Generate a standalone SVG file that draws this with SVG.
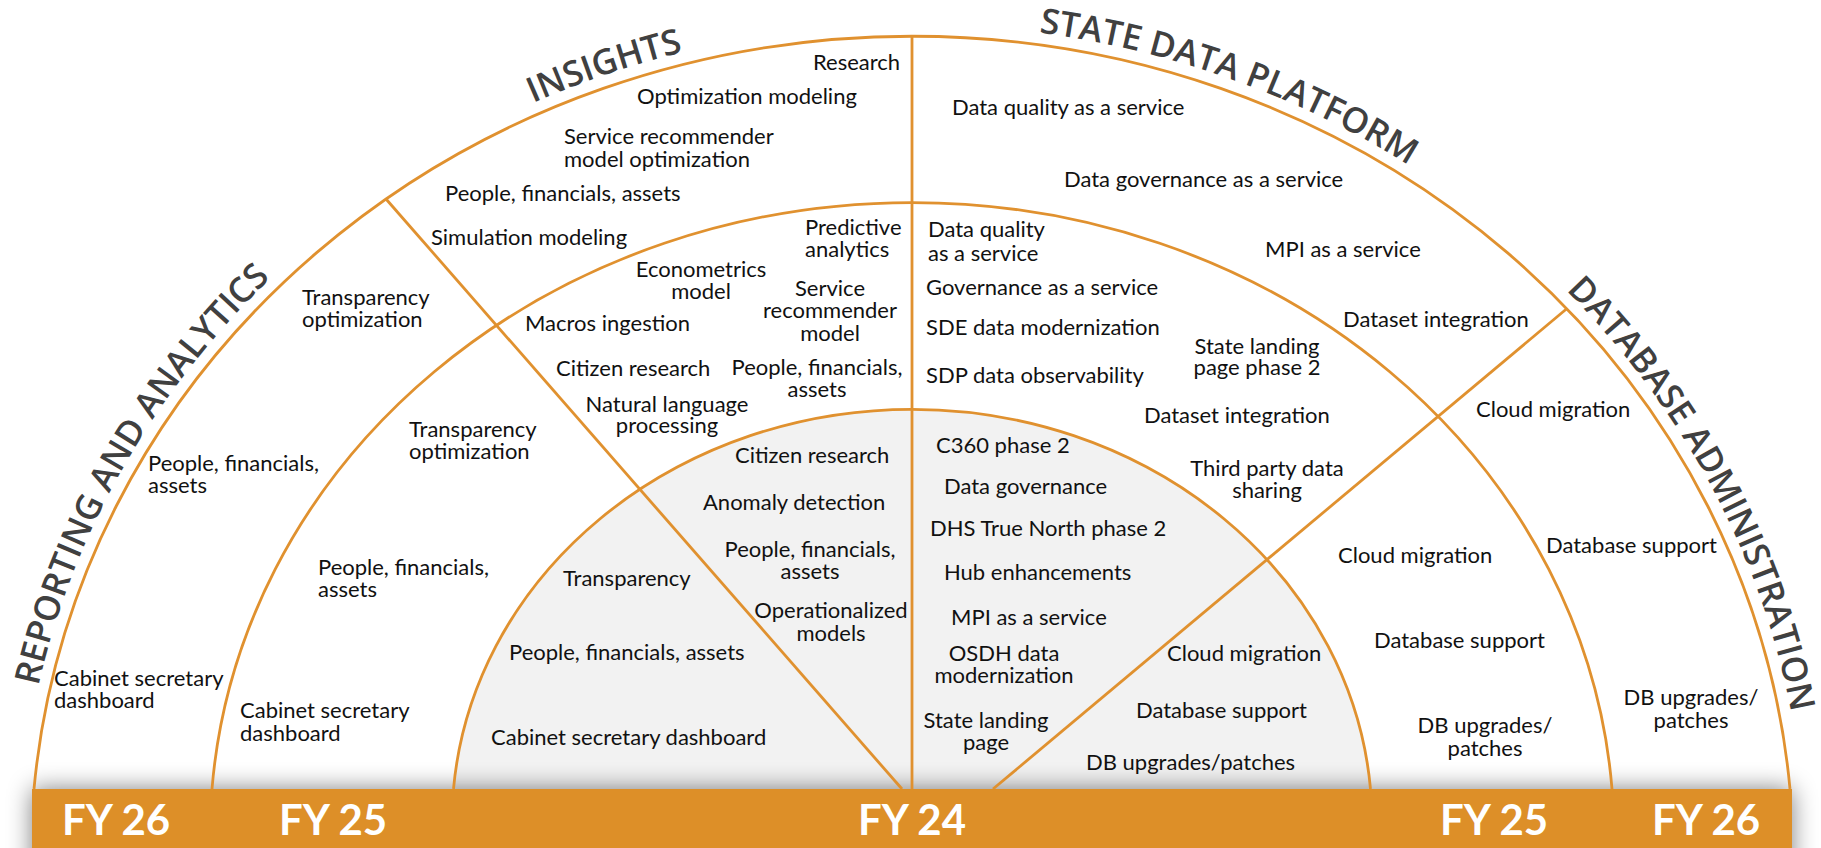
<svg xmlns="http://www.w3.org/2000/svg" width="1821" height="848" viewBox="0 0 1821 848">
<defs>
<style>
.t{font-family:Lato,"Liberation Sans",sans-serif;font-size:22px;fill:#111}
.m{text-anchor:middle}
.ln{fill:none;stroke:#E0912F;stroke-width:2.8}
.ttl{font-family:"Open Sans","DejaVu Sans",sans-serif;font-size:35px;font-weight:600;fill:#404040;text-anchor:middle}
.fy{font-family:Lato,"Liberation Sans",sans-serif;font-size:42px;font-weight:700;fill:#fff}
</style>
<filter id="sh" x="-10%" y="-100%" width="120%" height="300%">
<feGaussianBlur stdDeviation="12"/>
</filter>
<path id="pRep" d="M 27.4 743.6 A 893.3 836 0 0 1 314.3 238.8"/>
<path id="pIns" d="M 465.35 136 A 893.3 836 0 0 1 756.88 36.7"/>
<path id="pSdp" d="M 1005.4 28.6 A 893.3 836 0 0 1 1437.1 183.7"/>
<path id="pDba" d="M 1526.9 253.6 A 893.3 836 0 0 1 1799.6 765.4"/>
</defs>
<rect width="1821" height="848" fill="#fff"/>
<path id="fy24fill" d="M 453.5 789 A 460 413 0 0 1 1370.5 789 Z" fill="#F2F2F2"/>
<rect x="32" y="789" width="1760" height="90" fill="#000" opacity="0.5" filter="url(#sh)"/>
<g id="connectors">
<path class="ln" d="M 34 789 A 881.3 824 0 0 1 1790 789"/>
<path class="ln" d="M 212 789 A 701.9 633 0 0 1 1612 789"/>
<path class="ln" d="M 453.5 789 A 460 413 0 0 1 1370.5 789"/>
<path class="ln" d="M 912 36 L 912 789"/>
<path class="ln" d="M 386 199 L 902 789"/>
<path class="ln" d="M 1567 308.5 L 993 789"/>
</g>
<g id="titles">
<text class="ttl"><textPath href="#pRep" startOffset="50%">REPORTING AND ANALYTICS</textPath></text>
<text class="ttl"><textPath href="#pIns" startOffset="50%">INSIGHTS</textPath></text>
<text class="ttl"><textPath href="#pSdp" startOffset="50%">STATE DATA PLATFORM</textPath></text>
<text class="ttl"><textPath href="#pDba" startOffset="50%">DATABASE ADMINISTRATION</textPath></text>
</g>
<g id="insights-fy26">
<text class="t" x="813" y="70">Research</text>
<text class="t" x="637" y="104">Optimization modeling</text>
<text class="t" x="564" y="144">Service recommender<tspan x="564" y="167">model optimization</tspan></text>
<text class="t" x="445" y="201">People, financials, assets</text>
<text class="t" x="431" y="245">Simulation modeling</text>
</g>
<g id="reporting-fy26">
<text class="t" x="302" y="305">Transparency<tspan x="302" y="327">optimization</tspan></text>
<text class="t" x="148" y="471">People, financials,<tspan x="148" y="493">assets</tspan></text>
<text class="t" x="54" y="686">Cabinet secretary<tspan x="54" y="708">dashboard</tspan></text>
</g>
<g id="reporting-fy25">
<text class="t" x="409" y="437">Transparency<tspan x="409" y="459">optimization</tspan></text>
<text class="t" x="318" y="575">People, financials,<tspan x="318" y="597">assets</tspan></text>
<text class="t" x="240" y="718">Cabinet secretary<tspan x="240" y="741">dashboard</tspan></text>
</g>
<g id="insights-fy25">
<text class="t" x="805" y="235">Predictive<tspan x="805" y="257">analytics</tspan></text>
<text class="t m" x="701" y="277">Econometrics<tspan x="701" y="299">model</tspan></text>
<text class="t m" x="830" y="296">Service<tspan x="830" y="318">recommender</tspan><tspan x="830" y="341">model</tspan></text>
<text class="t" x="525" y="331">Macros ingestion</text>
<text class="t" x="556" y="376">Citizen research</text>
<text class="t m" x="817" y="375">People, financials,<tspan x="817" y="397">assets</tspan></text>
<text class="t m" x="667" y="412">Natural language<tspan x="667" y="433">processing</tspan></text>
</g>
<g id="insights-fy24">
<text class="t" x="735" y="463">Citizen research</text>
<text class="t" x="703" y="510">Anomaly detection</text>
<text class="t m" x="810" y="557">People, financials,<tspan x="810" y="579">assets</tspan></text>
<text class="t m" x="831" y="618">Operationalized<tspan x="831" y="641">models</tspan></text>
</g>
<g id="reporting-fy24">
<text class="t" x="563" y="586">Transparency</text>
<text class="t" x="509" y="660">People, financials, assets</text>
<text class="t" x="491" y="745">Cabinet secretary dashboard</text>
</g>
<g id="sdp-fy26">
<text class="t" x="952" y="115">Data quality as a service</text>
<text class="t" x="1064" y="187">Data governance as a service</text>
<text class="t" x="1265" y="257">MPI as a service</text>
<text class="t" x="1343" y="327">Dataset integration</text>
</g>
<g id="sdp-fy25">
<text class="t" x="928" y="237">Data quality<tspan x="928" y="261">as a service</tspan></text>
<text class="t" x="926" y="295">Governance as a service</text>
<text class="t" x="926" y="335">SDE data modernization</text>
<text class="t" x="926" y="383">SDP data observability</text>
<text class="t m" x="1257" y="354">State landing<tspan x="1257" y="375">page phase 2</tspan></text>
<text class="t" x="1144" y="423">Dataset integration</text>
<text class="t m" x="1267" y="476">Third party data<tspan x="1267" y="498">sharing</tspan></text>
</g>
<g id="sdp-fy24">
<text class="t" x="936" y="453">C360 phase 2</text>
<text class="t" x="944" y="494">Data governance</text>
<text class="t" x="930" y="536">DHS True North phase 2</text>
<text class="t" x="944" y="580">Hub enhancements</text>
<text class="t" x="951" y="625">MPI as a service</text>
<text class="t m" x="1004" y="661">OSDH data<tspan x="1004" y="683">modernization</tspan></text>
<text class="t m" x="986" y="728">State landing<tspan x="986" y="750">page</tspan></text>
</g>
<g id="dba-fy24">
<text class="t" x="1167" y="661">Cloud migration</text>
<text class="t" x="1136" y="718">Database support</text>
<text class="t" x="1086" y="770">DB upgrades/patches</text>
</g>
<g id="dba-fy25">
<text class="t" x="1338" y="563">Cloud migration</text>
<text class="t" x="1374" y="648">Database support</text>
<text class="t m" x="1485" y="733">DB upgrades/<tspan x="1485" y="756">patches</tspan></text>
</g>
<g id="dba-fy26">
<text class="t" x="1476" y="417">Cloud migration</text>
<text class="t" x="1546" y="553">Database support</text>
<text class="t m" x="1691" y="705">DB upgrades/<tspan x="1691" y="728">patches</tspan></text>
</g>
<g id="bar">
<rect x="32" y="789" width="1760" height="59" fill="#DD8F28"/>
<text class="fy" x="62" y="835">FY 26</text>
<text class="fy" x="279" y="835">FY 25</text>
<text class="fy m" x="912" y="835">FY 24</text>
<text class="fy" x="1440" y="835">FY 25</text>
<text class="fy" x="1652" y="835">FY 26</text>
</g>
</svg>
